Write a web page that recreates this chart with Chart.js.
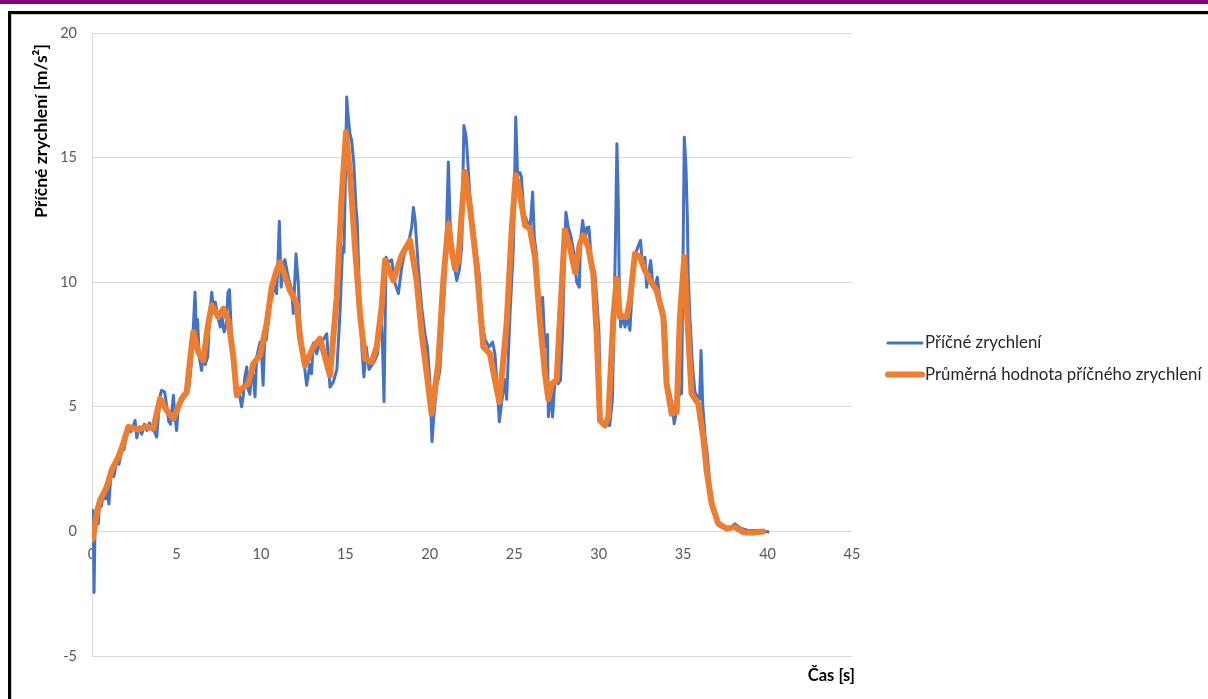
<!DOCTYPE html>
<html><head><meta charset="utf-8">
<script src="https://cdn.jsdelivr.net/npm/chart.js@4.4.1/dist/chart.umd.min.js"></script>
<style>
html,body{margin:0;padding:0;background:#fff;width:1208px;height:699px;overflow:hidden;}
#bar{position:absolute;left:0;top:0;width:1208px;height:4px;background:#800080;}
#frame{position:absolute;left:8px;top:11px;width:1220px;height:720px;border:3px solid #000;box-shadow:inset 1px 1px 0 #c8c8c8;}
#wrap{position:absolute;left:0;top:0;width:1208px;height:699px;}
</style></head>
<body>
<div id="bar"></div><div id="frame"></div>
<div id="wrap"><canvas id="c"></canvas></div>
<script>
const seriesNames = ['Příčné zrychlení', 'Průměrná hodnota příčného zrychlení'];
const xTitle = 'Čas [s]';
const yTitle = 'Příčné zrychlení [m/s²]';
const xTicks = [0, 5, 10, 15, 20, 25, 30, 35, 40, 45];
const yTicks = [-5, 0, 5, 10, 15, 20];

const rawTime = [0,0.03,0.08,0.12,0.18,0.25,0.37,0.45,0.55,0.7,0.8,0.9,1.0,1.1,1.2,1.3,1.45,1.6,1.75,1.9,2.0,2.15,2.3,2.45,2.55,2.65,2.8,2.95,3.1,3.25,3.4,3.55,3.7,3.83,3.95,4.05,4.12,4.3,4.45,4.55,4.65,4.82,4.9,5.01,5.1,5.25,5.4,5.6,5.75,5.85,5.95,6.1,6.18,6.25,6.35,6.49,6.58,6.7,6.85,6.95,7.09,7.18,7.3,7.45,7.6,7.7,7.82,7.95,8.05,8.14,8.25,8.35,8.45,8.55,8.7,8.86,8.95,9.05,9.16,9.25,9.35,9.45,9.55,9.65,9.75,9.85,9.95,10.05,10.13,10.22,10.32,10.44,10.55,10.64,10.78,10.93,11.0,11.09,11.2,11.33,11.42,11.62,11.82,11.92,12.08,12.22,12.31,12.5,12.71,12.9,13.0,13.1,13.3,13.5,13.7,13.9,14.09,14.29,14.5,14.68,14.84,14.92,15.0,15.08,15.15,15.27,15.37,15.5,15.63,15.7,15.87,16.0,16.1,16.24,16.4,16.6,16.7,16.9,17.1,17.2,17.29,17.41,17.54,17.74,17.94,18.14,18.34,18.54,18.73,18.93,19.03,19.13,19.32,19.52,19.72,19.86,20.0,20.13,20.25,20.4,20.6,20.76,20.9,21.0,21.1,21.2,21.3,21.43,21.6,21.75,21.89,22.02,22.14,22.2,22.38,22.53,22.78,22.93,23.07,23.27,23.52,23.72,23.86,23.96,24.12,24.26,24.46,24.55,24.75,24.95,25.09,25.2,25.34,25.43,25.57,25.73,25.93,26.09,26.19,26.32,26.52,26.68,26.82,26.97,27.02,27.16,27.27,27.41,27.6,27.74,27.86,27.96,28.06,28.2,28.34,28.5,28.7,28.85,28.93,29.05,29.2,29.3,29.42,29.57,29.77,29.9,30.02,30.12,30.26,30.46,30.65,30.81,30.9,31.0,31.08,31.16,31.22,31.3,31.42,31.56,31.7,31.85,31.95,32.05,32.25,32.4,32.48,32.6,32.74,32.84,32.94,33.08,33.2,33.33,33.47,33.63,33.83,33.96,34.08,34.22,34.38,34.47,34.62,34.81,34.91,34.97,35.07,35.17,35.25,35.3,35.4,35.56,35.7,35.85,35.98,36.06,36.16,36.3,36.43,36.6,36.8,37.0,37.2,37.4,37.8,38.07,38.4,38.8,39.5,40.1];
const rawValue = [0,0.85,0.3,-2.45,0.2,0.9,0.3,1.2,1.0,1.6,1.3,1.8,1.1,2.1,2.4,2.2,2.8,2.7,3.2,3.3,3.7,4.2,4.0,4.25,4.45,3.75,4.2,3.9,4.3,4.05,4.35,4.1,4.0,3.78,4.8,5.5,5.66,5.6,4.9,4.4,4.3,5.46,4.7,4.05,4.9,5.2,5.5,5.5,5.8,6.5,7.5,9.6,8.0,8.5,7.0,6.46,7.2,6.7,7.0,8.5,9.6,9.0,9.2,8.6,8.2,8.6,8.0,8.3,9.6,9.7,8.0,6.8,6.0,5.5,5.6,5.0,5.4,6.2,6.6,5.7,5.5,6.5,6.2,5.4,7.0,7.3,7.6,7.0,5.86,7.6,7.7,8.47,9.2,9.3,9.9,9.54,10.6,12.45,9.8,10.74,10.9,10.2,9.7,8.74,11.14,9.9,8.33,7.1,5.86,6.7,6.33,7.56,7.13,7.6,7.7,7.93,5.79,6.0,6.5,8.74,11.41,11.2,14.0,17.43,16.8,15.96,15.7,14.8,13.0,12.5,8.74,7.13,6.2,7.4,6.5,6.7,6.8,7.1,8.7,7.5,5.2,11.0,10.8,10.9,9.96,9.54,10.6,11.28,11.55,12.2,13.0,12.5,10.6,9.0,7.9,7.4,6.1,3.6,4.7,5.79,6.46,8.47,10.07,12.35,14.82,12.5,11.4,10.7,10.07,10.5,11.4,16.29,15.9,15.4,13.4,12.5,11.1,10.3,8.47,7.7,7.4,7.6,7.1,6.1,4.4,5.2,6.1,5.3,8.7,11.4,16.63,14.3,14.4,14.2,12.75,12.5,12.1,13.62,11.8,11.1,8.7,9.4,7.4,7.9,4.6,5.66,4.59,6.06,5.93,6.06,7.93,10.6,12.81,12.2,11.9,11.3,10.0,9.8,11.7,12.48,11.7,12.2,12.21,10.87,10.34,9.27,7.93,4.45,4.25,4.3,4.25,5.26,7.93,11.95,15.56,13.3,9.8,8.2,8.7,8.2,8.6,8.07,9.27,10.87,11.28,11.55,11.68,10.6,11.0,9.8,10.3,10.87,9.93,9.8,10.2,9.27,8.87,8.2,5.93,5.53,5.0,4.32,4.86,5.66,5.53,9.27,15.82,14.6,12.6,10.34,8.6,6.6,5.6,5.4,5.3,7.26,5.1,3.8,3.1,1.8,0.9,0.5,0.3,0.2,0.13,0.3,0.13,0.05,0.03,-0.02];

const avgTime = [0.05,0.28,0.47,0.87,1.16,1.56,1.85,2.15,2.74,3.24,3.63,4.03,4.42,4.82,5.31,5.61,5.8,6.0,6.29,6.59,6.85,7.09,7.48,7.78,8.07,8.37,8.57,8.86,9.26,9.55,9.95,10.34,10.64,10.93,11.13,11.72,12.12,12.31,12.61,13.1,13.5,14.09,14.49,14.78,15.04,15.28,15.57,15.87,16.16,16.56,16.86,17.15,17.35,17.84,18.34,18.83,19.22,19.52,19.82,20.11,20.5,20.8,21.1,21.3,21.49,21.69,21.89,22.08,22.38,22.78,23.17,23.56,23.86,24.12,24.55,24.85,25.09,25.34,25.64,25.93,26.23,26.52,26.82,27.02,27.22,27.51,27.71,28.0,28.3,28.6,28.89,29.09,29.38,29.68,29.88,30.08,30.37,30.57,30.87,31.07,31.26,31.66,31.85,32.15,32.44,32.74,33.04,33.43,33.83,34.02,34.32,34.62,34.81,35.07,35.3,35.5,35.9,36.19,36.39,36.69,37.08,37.58,38.07,38.56,39.15,39.74];
const avgValue = [-0.3,0.72,1.24,1.78,2.45,2.98,3.52,4.19,4.08,4.21,4.12,5.32,4.86,4.52,5.32,5.59,6.86,8.0,7.2,6.86,8.2,9.07,8.6,8.94,8.47,7.0,5.46,5.73,5.93,6.73,7.06,8.33,9.8,10.47,10.81,9.67,9.14,7.8,6.66,7.4,7.73,6.26,9.4,13.41,16.02,14.35,11.41,8.74,6.93,6.8,7.4,9.0,10.87,10.07,11.08,11.68,10.07,7.93,6.33,4.72,6.73,10.07,12.35,11.28,10.54,10.87,12.74,14.42,13.01,10.61,7.4,7.13,6.06,5.19,8.33,12.08,14.29,13.55,12.28,12.15,11.01,8.47,6.33,5.3,5.93,6.06,8.6,12.08,11.41,10.4,11.55,11.88,11.41,10.34,7.93,4.45,4.25,4.59,8.6,10.14,8.6,8.6,9.27,11.14,11.01,10.47,10.07,9.67,8.6,5.93,4.72,4.79,8.6,11.01,7.93,5.53,5.12,3.78,2.45,1.11,0.31,0.11,0.17,-0.03,-0.05,0.0];

const toPoints = (ts, vs) => ts.map((t, i) => ({x: t, y: vs[i]}));

const overlay = {
  id: 'overlay',
  afterDraw(chart) {
    const ctx = chart.ctx, ca = chart.chartArea;
    ctx.save();
    ctx.fillStyle = '#000';
    ctx.font = 'bold 16.5px Lato';
    ctx.textAlign = 'right';
    ctx.textBaseline = 'middle';
    ctx.fillText(xTitle, ca.right + 3, ca.bottom + 20);
    ctx.save();
    ctx.translate(41.5, 131);
    ctx.rotate(-Math.PI / 2);
    ctx.textAlign = 'center';
    ctx.font = 'bold 17.5px Lato';
    ctx.fillText(yTitle, 0, 0);
    ctx.restore();
    // legend
    ctx.font = '16.8px Lato';
    ctx.textAlign = 'left';
    chart.data.datasets.forEach((ds, i) => {
      const y = 343 + i * 31.5;
      ctx.strokeStyle = ds.borderColor;
      ctx.lineWidth = ds.borderWidth;
      ctx.lineCap = 'round';
      ctx.beginPath();
      ctx.moveTo(888, y);
      ctx.lineTo(922, y);
      ctx.stroke();
      ctx.fillStyle = '#262626';
      ctx.fillText(ds.label, 925, y);
    });
    ctx.restore();
  }
};

new Chart(document.getElementById('c'), {
  type: 'scatter',
  data: {
    datasets: [
      {label: seriesNames[0], data: toPoints(rawTime, rawValue), showLine: true, borderColor: '#4472C4', backgroundColor: '#4472C4', borderWidth: 3, pointRadius: 0, tension: 0, order: 1, borderJoinStyle: 'round'},
      {label: seriesNames[1], data: toPoints(avgTime, avgValue), showLine: true, borderColor: '#ED7D31', backgroundColor: '#ED7D31', borderWidth: 6, pointRadius: 0, tension: 0, order: 0, borderJoinStyle: 'round', borderCapStyle: 'round'}
    ]
  },
  options: {
    responsive: true,
    maintainAspectRatio: false,
    animation: false,
    events: [],
    layout: {padding: {top: 33, right: 356, bottom: 43, left: 0}},
    plugins: {legend: {display: false}, tooltip: {enabled: false}},
    scales: {
      x: {
        type: 'linear', min: 0, max: 45, position: {y: 0},
        afterBuildTicks: s => { s.ticks = xTicks.map(v => ({value: v})); },
        ticks: {color: '#595959', font: {family: 'Lato', size: 14.5}, padding: 14, maxRotation: 0, autoSkip: false},
        grid: {display: false, drawTicks: false},
        border: {display: false}
      },
      y: {
        type: 'linear', min: -5, max: 20,
        afterBuildTicks: s => { s.ticks = yTicks.map(v => ({value: v})); },
        afterFit: s => { s.width = 92; },
        ticks: {color: '#595959', font: {family: 'Lato', size: 14.5}, padding: 15},
        grid: {color: '#d9d9d9', lineWidth: 1, drawTicks: false},
        border: {display: true, color: '#d9d9d9', width: 1}
      }
    }
  },
  plugins: [overlay]
});
</script>
</body></html>
